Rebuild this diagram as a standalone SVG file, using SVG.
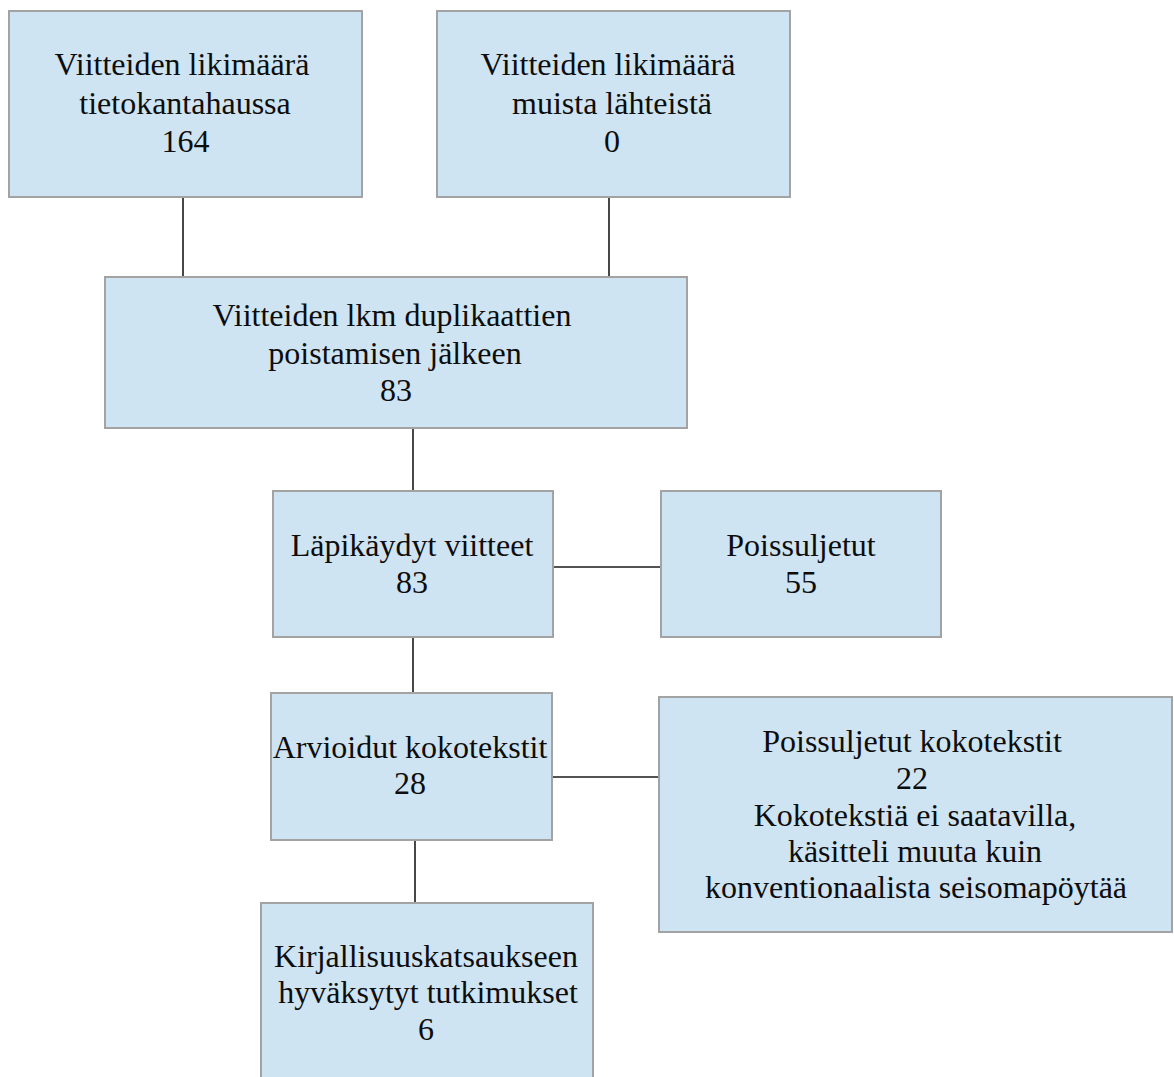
<svg xmlns="http://www.w3.org/2000/svg" width="1174" height="1077" viewBox="0 0 1174 1077">
<style>
.box{fill:#cfe4f2;stroke:#a3a3a3;stroke-width:2}
.lbl{font-family:'Liberation Serif','Times New Roman',serif;font-size:32px;fill:#0d0d0d;text-anchor:middle}
.con{stroke:#1a1a1a;stroke-width:1.6;fill:none}
</style>
<rect width="1174" height="1077" fill="#ffffff"/>
<g id="connectors">
<line class="con" x1="183" y1="197" x2="183" y2="277"/>
<line class="con" x1="609" y1="197" x2="609" y2="277"/>
<line class="con" x1="413" y1="428" x2="413" y2="491"/>
<line class="con" x1="553" y1="567" x2="661" y2="567"/>
<line class="con" x1="413" y1="637" x2="413" y2="693"/>
<line class="con" x1="552" y1="777" x2="659" y2="777"/>
<line class="con" x1="415" y1="840" x2="415" y2="903"/>
</g>
<g id="n1">
<rect class="box" x="9" y="11" width="353" height="186"/>
<text class="lbl"><tspan x="182" y="75">Viitteiden likimäärä</tspan><tspan x="185" y="114">tietokantahaussa</tspan><tspan x="185.5" y="152">164</tspan></text>
</g>
<g id="n2">
<rect class="box" x="437" y="11" width="353" height="186"/>
<text class="lbl"><tspan x="608" y="75">Viitteiden likimäärä</tspan><tspan x="612" y="114">muista lähteistä</tspan><tspan x="612" y="152">0</tspan></text>
</g>
<g id="n3">
<rect class="box" x="105" y="277" width="582" height="151"/>
<text class="lbl"><tspan x="392" y="326">Viitteiden lkm duplikaattien</tspan><tspan x="395" y="364">poistamisen jälkeen</tspan><tspan x="396" y="401">83</tspan></text>
</g>
<g id="n4">
<rect class="box" x="273" y="491" width="280" height="146"/>
<text class="lbl"><tspan x="412" y="556">Läpikäydyt viitteet</tspan><tspan x="412" y="593">83</tspan></text>
</g>
<g id="n5">
<rect class="box" x="661" y="491" width="280" height="146"/>
<text class="lbl"><tspan x="801" y="556">Poissuljetut</tspan><tspan x="801" y="593">55</tspan></text>
</g>
<g id="n6">
<rect class="box" x="271" y="693" width="281" height="147"/>
<text class="lbl"><tspan x="410" y="758">Arvioidut kokotekstit</tspan><tspan x="410" y="794">28</tspan></text>
</g>
<g id="n7">
<rect class="box" x="659" y="697" width="513" height="235"/>
<text class="lbl"><tspan x="912" y="752">Poissuljetut kokotekstit</tspan><tspan x="912" y="789">22</tspan><tspan x="915" y="826">Kokotekstiä ei saatavilla,</tspan><tspan x="915" y="862">käsitteli muuta kuin</tspan><tspan x="916" y="898">konventionaalista seisomapöytää</tspan></text>
</g>
<g id="n8">
<rect class="box" x="261" y="903" width="332" height="190"/>
<text class="lbl"><tspan x="426" y="967">Kirjallisuuskatsaukseen</tspan><tspan x="428" y="1003">hyväksytyt tutkimukset</tspan><tspan x="426" y="1040">6</tspan></text>
</g>
</svg>
